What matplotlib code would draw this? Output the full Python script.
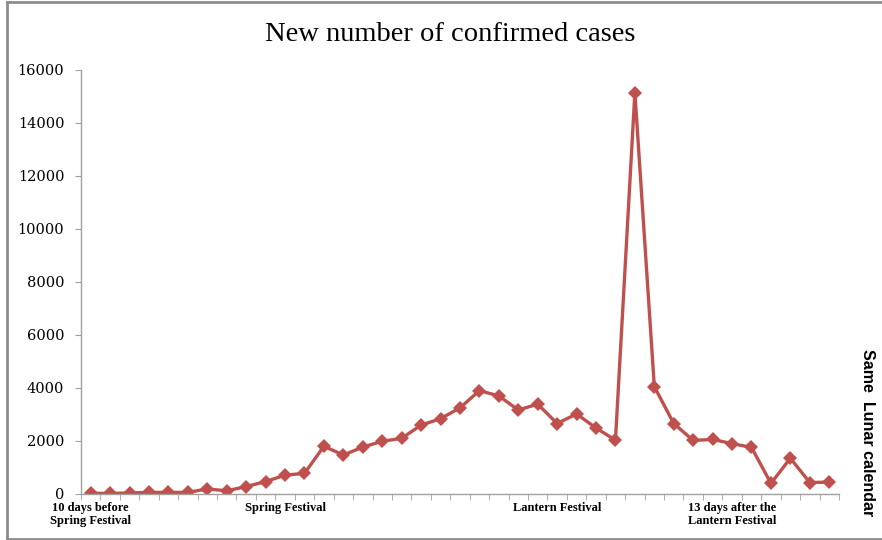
"""Recreate the 'New number of confirmed cases' line chart."""

import matplotlib

matplotlib.use('Agg')

import matplotlib.pyplot as plt
from matplotlib.lines import Line2D

# one value per day, from 10 days before Spring Festival onward
new_cases = [
    30, 20, 40, 60, 60, 60, 190, 120, 280, 470,
    710, 780, 1800, 1470, 1770, 1990, 2100, 2600, 2840, 3250,
    3900, 3700, 3170, 3390, 2660, 3020, 2490, 2030, 15150, 4050,
    2660, 2020, 2060, 1900, 1760, 400, 1350, 430, 450,
]
label_positions = [0, 10, 24, 33]
label_texts = [
    '10 days before\nSpring Festival',
    'Spring Festival',
    'Lantern Festival',
    '13 days after the\nLantern Festival',
]
y_ticks = [0, 2000, 4000, 6000, 8000, 10000, 12000, 14000, 16000]

RED = '#c0504d'
GRAY = '#a0a0a0'

fig = plt.figure(figsize=(8.82, 5.40), dpi=100)
ax = fig.add_axes([0.0918, 0.0852, 0.8594, 0.7852])

days = list(range(len(new_cases)))
ax.plot(days, new_cases, color=RED, lw=2.4, marker='D', ms=7.5,
        markeredgewidth=0, solid_joinstyle='round')

ax.set_xlim(-0.5, len(new_cases) - 0.5)
ax.set_ylim(0, 16000)

ax.set_yticks(y_ticks)
ax.set_yticklabels([str(v) for v in y_ticks], family='DejaVu Serif', fontsize=10.5)
ax.tick_params(axis='y', length=4, color=GRAY, pad=8)

ax.set_xticks(label_positions)
ax.set_xticklabels(label_texts, family='Liberation Serif', fontweight='bold',
                   fontsize=9, linespacing=1.05)
ax.tick_params(axis='x', length=0, pad=6)
ax.set_xticks([d - 0.5 for d in days] + [len(days) - 0.5], minor=True)
ax.tick_params(axis='x', which='minor', length=4, color=GRAY)

for side in ('top', 'right'):
    ax.spines[side].set_visible(False)
for side in ('left', 'bottom'):
    ax.spines[side].set_color(GRAY)
    ax.spines[side].set_linewidth(1)

fig.text(0.51, 0.936, 'New number of confirmed cases', ha='center', va='center',
         family='Liberation Serif', fontsize=20.5)
fig.text(0.983, 0.198, 'Same  Lunar calendar', rotation=270, ha='center',
         va='center', family='Liberation Sans', fontweight='bold', fontsize=11.5)

# chart frame (no right edge visible)
frame = dict(color='#8c8c8c', lw=2, transform=fig.transFigure)
fig.add_artist(Line2D([0.008, 1.0], [0.996, 0.996], **frame))
fig.add_artist(Line2D([0.008, 0.008], [0.002, 0.996], **frame))
fig.add_artist(Line2D([0.008, 1.0], [0.002, 0.002], **frame))

fig.savefig('out.png', dpi=100)
